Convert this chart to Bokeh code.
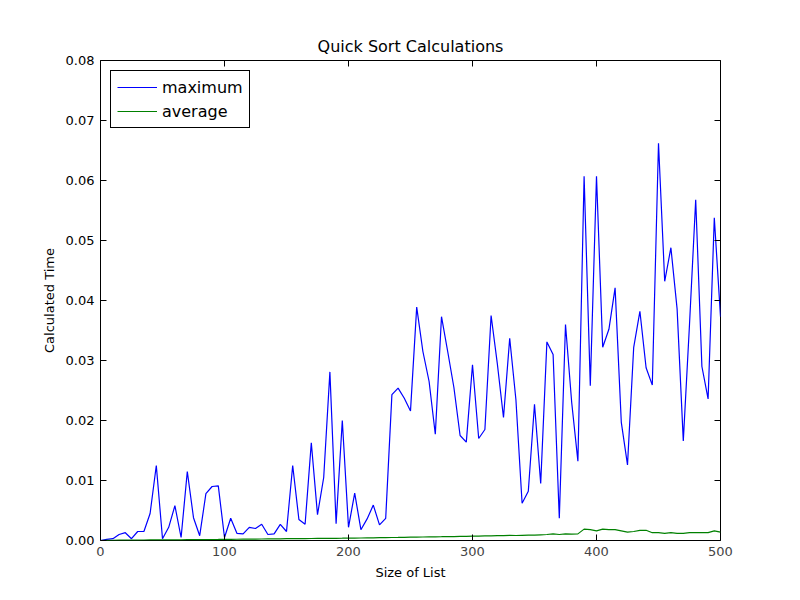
from bokeh.plotting import figure
from bokeh.models import LinearAxis, Range1d, Legend, LegendItem, FixedTicker, NumeralTickFormatter
from bokeh.embed import file_html
from bokeh.resources import INLINE

sizes = list(range(0, 501, 5))

maximum = [0.0, 0.0002, 0.0003, 0.0010, 0.0013, 0.0003, 0.0015, 0.0015, 0.0045, 0.0125,
           0.0003, 0.0022, 0.0058, 0.0005, 0.0115, 0.0038, 0.0008, 0.0078, 0.0090, 0.0091,
           0.0005, 0.0037, 0.0012, 0.0011, 0.0022, 0.0020, 0.0027, 0.0010, 0.0011, 0.0027,
           0.0015, 0.0125, 0.0035, 0.0027, 0.0163, 0.0043, 0.0105, 0.0281, 0.0028, 0.0200,
           0.0022, 0.0079, 0.0018, 0.0036, 0.0059, 0.0026, 0.0037, 0.0243, 0.0254, 0.0237,
           0.0216, 0.0389, 0.0315, 0.0265, 0.0177, 0.0373, 0.0315, 0.0255, 0.0175, 0.0164,
           0.0293, 0.0170, 0.0185, 0.0375, 0.0295, 0.0205, 0.0337, 0.0235, 0.0062, 0.0082,
           0.0227, 0.0095, 0.0331, 0.0310, 0.0037, 0.0360, 0.0230, 0.0132, 0.0607, 0.0258,
           0.0607, 0.0322, 0.0352, 0.0421, 0.0197, 0.0126, 0.0322, 0.0382, 0.0288, 0.0259,
           0.0662, 0.0432, 0.0488, 0.0386, 0.0166, 0.0360, 0.0568, 0.0290, 0.0236, 0.0538,
           0.0373]

average = [0.0, 0.00003, 0.00004, 0.00005, 0.00006, 0.00006, 0.00007, 0.00008, 0.00009, 0.0001,
           0.0001, 0.00011, 0.00012, 0.00012, 0.00013, 0.00014, 0.00015, 0.00016, 0.00017, 0.00018,
           0.0002, 0.0002, 0.00021, 0.00022, 0.00023, 0.00024, 0.00025, 0.00026, 0.00027, 0.00028,
           0.0003, 0.0003, 0.00031, 0.00032, 0.00033, 0.00034, 0.00035, 0.00036, 0.00037, 0.00038,
           0.0004, 0.0004, 0.00042, 0.00044, 0.00045, 0.00047, 0.00048, 0.0005, 0.00051, 0.00053,
           0.00055, 0.00057, 0.00058, 0.0006, 0.00062, 0.00063, 0.00065, 0.00066, 0.00068, 0.0007,
           0.00072, 0.00074, 0.00076, 0.00078, 0.0008, 0.00082, 0.00085, 0.00083, 0.00087, 0.0009,
           0.0009, 0.00095, 0.001, 0.0011, 0.0010, 0.0011, 0.00105, 0.0011, 0.0019, 0.0018,
           0.0016, 0.0019, 0.0018, 0.0018, 0.0016, 0.0014, 0.0015, 0.0017, 0.0017, 0.0013,
           0.0013, 0.0012, 0.0013, 0.0012, 0.0012, 0.0013, 0.0013, 0.0013, 0.0013, 0.0016,
           0.0014]

x_ticks = [0, 100, 200, 300, 400, 500]
y_ticks = [0, 0.01, 0.02, 0.03, 0.04, 0.05, 0.06, 0.07, 0.08]

FONT = "DejaVu Sans"

p = figure(width=800, height=600, output_backend="svg", toolbar_location=None,
           x_range=Range1d(0, 500), y_range=Range1d(0, 0.08),
           title="Quick Sort Calculations",
           min_border_left=100, min_border_right=80, min_border_top=60, min_border_bottom=60)
p.title.align = "center"
p.title.text_font = FONT
p.title.text_font_size = "16px"
p.title.text_font_style = "normal"
p.title.text_color = "black"
p.grid.grid_line_color = None
p.outline_line_color = "black"
p.outline_line_width = 1

l1 = p.line(sizes, maximum, color="#0000ff", line_width=1.2)
l2 = p.line(sizes, average, color="#008000", line_width=1.2)

p.xaxis.axis_label = "Size of List"
p.yaxis.axis_label = "Calculated Time"
p.yaxis.ticker = FixedTicker(ticks=y_ticks)
p.yaxis.formatter = NumeralTickFormatter(format="0.00")
p.xaxis.ticker = FixedTicker(ticks=x_ticks)

top = LinearAxis(ticker=FixedTicker(ticks=x_ticks), major_label_text_color=None)
right = LinearAxis(ticker=FixedTicker(ticks=y_ticks), major_label_text_color=None)
p.add_layout(top, "above")
p.add_layout(right, "right")

for ax in p.axis:
    ax.major_tick_in = 6
    ax.major_tick_out = 0
    ax.minor_tick_in = 0
    ax.minor_tick_out = 0
    ax.axis_line_color = None
    ax.major_tick_line_color = "black"
    ax.major_label_text_font = FONT
    ax.major_label_text_font_size = "13px"
    ax.axis_label_text_font = FONT
    ax.axis_label_text_font_size = "13px"
    ax.axis_label_text_font_style = "normal"
    ax.axis_label_text_color = "black"
    ax.major_label_standoff = 6
    ax.axis_label_standoff = 6
p.xaxis[0].major_label_text_color = "black" if p.xaxis[0] is not top else None
p.yaxis[0].major_label_text_color = "black" if p.yaxis[0] is not right else None
top.major_label_text_color = None
right.major_label_text_color = None

legend = Legend(items=[LegendItem(label="maximum", renderers=[l1]),
                       LegendItem(label="average", renderers=[l2])],
                location="top_left", border_line_color="black", border_line_alpha=1,
                label_text_font=FONT, label_text_font_size="16px", label_text_color="black",
                glyph_width=40, spacing=4, padding=6, margin=10)
p.add_layout(legend)

open("out.html", "w").write(file_html(p, INLINE))
